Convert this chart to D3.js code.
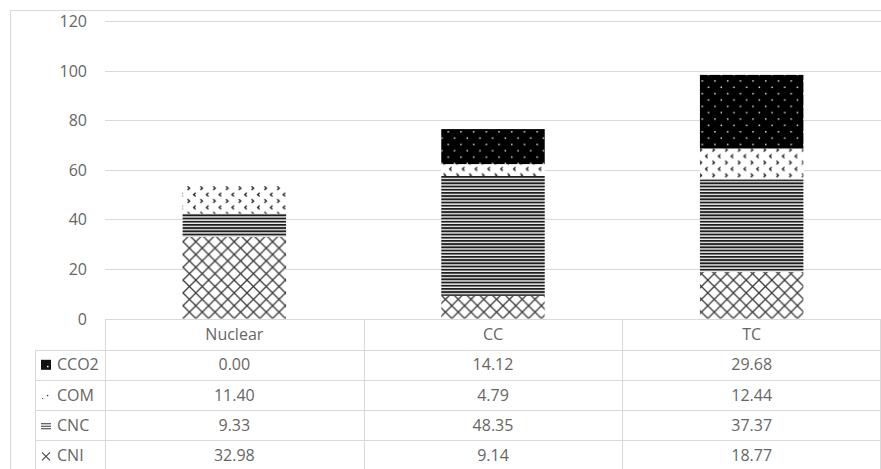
<!DOCTYPE html>
<html>
<head>
<meta charset="utf-8">
<script src="https://cdn.jsdelivr.net/npm/d3@7"></script>
<style>
  html, body { margin: 0; padding: 0; background: #fff; }
  svg { display: block; }
  text { font-family: "Open Sans", "Liberation Sans", sans-serif; font-size: 16px; fill: #666666; }
</style>
</head>
<body>
<svg id="chart" width="881" height="469"></svg>
<script>
// ---- data ----
const categories = ["Nuclear", "CC", "TC"];
const seriesNames = ["CNI", "CNC", "COM", "CCO2"];       // stack order, bottom to top
const CNI  = [32.98, 9.14, 18.77];
const CNC  = [9.33, 48.35, 37.37];
const COM  = [11.40, 4.79, 12.44];
const CCO2 = [0.00, 14.12, 29.68];
const yTicks = [0, 20, 40, 60, 80, 100, 120];
const tableRows = ["CCO2", "COM", "CNC", "CNI"];          // table order, top to bottom

const seriesValues = { CNI, CNC, COM, CCO2 };
const rows = categories.map((c, i) => {
  const r = { category: c };
  seriesNames.forEach(s => r[s] = seriesValues[s][i]);
  return r;
});

const svg = d3.select("#chart");
const W = 881, H = 469;
const plotLeft = 105, plotRight = 881;
const y0px = 318.5, yTopPx = 21;
const gridColor = "#d9d9d9";

// outer border
svg.append("rect").attr("x", 10.5).attr("y", 10.5).attr("width", 900).attr("height", 500)
  .attr("fill", "none").attr("stroke", gridColor);

// ---- patterns ----
const defs = svg.append("defs");
// CNI: diagonal cross lattice
const pCNI = defs.append("pattern").attr("id", "pCNI").attr("patternUnits", "userSpaceOnUse")
  .attr("width", 12.8).attr("height", 12.8).attr("x", 183).attr("y", 318.5);
pCNI.append("rect").attr("width", 12.8).attr("height", 12.8).attr("fill", "#fff");
pCNI.append("path").attr("d", "M0,0L12.8,12.8M12.8,0L0,12.8M-1,11.8L1,13.8M11.8,-1L13.8,1")
  .attr("stroke", "#3a3a3a").attr("stroke-width", 1.3).attr("fill", "none");

// CNC: dense horizontal lines
const pCNC = defs.append("pattern").attr("id", "pCNC").attr("patternUnits", "userSpaceOnUse")
  .attr("width", 8).attr("height", 3.2);
pCNC.append("rect").attr("width", 8).attr("height", 3.2).attr("fill", "#fff");
pCNC.append("rect").attr("y", 0).attr("width", 8).attr("height", 1.7).attr("fill", "#1e1e1e");
pCNC.append("rect").attr("y", 1.7).attr("width", 8).attr("height", 0.8).attr("fill", "#a8a8a8");

// COM: small chevron confetti
const pCOM = defs.append("pattern").attr("id", "pCOM").attr("patternUnits", "userSpaceOnUse")
  .attr("width", 12.8).attr("height", 12.8);
pCOM.append("rect").attr("width", 12.8).attr("height", 12.8).attr("fill", "#fff");
pCOM.append("path").attr("d", "M3.6,0.8L1.6,2.6L3.6,4.4M8.4,7.2L10.4,9.0L8.4,10.8")
  .attr("stroke", "#2a2a2a").attr("stroke-width", 1.4).attr("fill", "none");

// CCO2: black with white dots
const pCCO2 = defs.append("pattern").attr("id", "pCCO2").attr("patternUnits", "userSpaceOnUse")
  .attr("width", 12.7).attr("height", 12.7).attr("x", 1).attr("y", 2);
pCCO2.append("rect").attr("width", 12.7).attr("height", 12.7).attr("fill", "#000");
pCCO2.append("rect").attr("x", 2).attr("y", 2).attr("width", 1.5).attr("height", 1.5).attr("fill", "#ddd");
pCCO2.append("rect").attr("x", 8.35).attr("y", 8.35).attr("width", 1.5).attr("height", 1.5).attr("fill", "#ddd");

const fills = { CNI: "url(#pCNI)", CNC: "url(#pCNC)", COM: "url(#pCOM)", CCO2: "url(#pCCO2)" };

// ---- scales ----
const y = d3.scaleLinear().domain([0, 120]).range([y0px, yTopPx]);
const x = d3.scaleBand().domain(categories).range([plotLeft, plotRight])
  .paddingInner(0.6).paddingOuter(0.3);
const colX = d3.scaleBand().domain(categories).range([plotLeft, plotRight]);

// gridlines
svg.append("g").selectAll("line").data(yTicks.filter(t => t > 0)).join("line")
  .attr("x1", plotLeft).attr("x2", plotRight)
  .attr("y1", d => Math.round(y(d)) + 0.5).attr("y2", d => Math.round(y(d)) + 0.5)
  .attr("stroke", gridColor).attr("stroke-width", 1);

// y axis labels
const yAxis = d3.axisLeft(y).tickValues(yTicks).tickSize(0).tickPadding(0);
const gy = svg.append("g").attr("transform", "translate(87,0)").call(yAxis);
gy.select(".domain").remove();
gy.selectAll("text").attr("font-size", null).attr("font-family", null).style("fill", "#666666")
  .attr("dy", "0.35em");

// ---- stacked bars ----
const stack = d3.stack().keys(seriesNames)(rows);
svg.append("g").selectAll("g").data(stack).join("g")
  .attr("fill", d => fills[d.key])
  .selectAll("rect").data(d => d.filter(p => p[1] - p[0] > 0)).join("rect")
  .attr("x", d => x(d.data.category))
  .attr("width", x.bandwidth())
  .attr("y", d => y(d[1]))
  .attr("height", d => y(d[0]) - y(d[1]));

// ---- data table ----
const tableTop = 319.5, rowH = 30.2, hdrLeft = 35;
const tbl = svg.append("g");
tbl.append("line").attr("x1", plotLeft).attr("x2", plotRight).attr("y1", tableTop).attr("y2", tableTop)
  .attr("stroke", gridColor);
d3.range(1, tableRows.length + 2).forEach(i => {
  const yy = Math.round(tableTop + i * rowH) + 0.5;
  tbl.append("line").attr("x1", hdrLeft).attr("x2", plotRight).attr("y1", yy).attr("y2", yy)
    .attr("stroke", gridColor);
});
tbl.append("line").attr("x1", hdrLeft + 0.5).attr("x2", hdrLeft + 0.5)
  .attr("y1", tableTop + rowH).attr("y2", H + 10).attr("stroke", gridColor);
categories.forEach(c => {
  const xx = Math.round(colX(c)) + 0.5;
  tbl.append("line").attr("x1", xx).attr("x2", xx).attr("y1", tableTop).attr("y2", H + 10)
    .attr("stroke", gridColor);
});
tbl.append("line").attr("x1", plotRight - 0.5).attr("x2", plotRight - 0.5)
  .attr("y1", tableTop).attr("y2", H + 10).attr("stroke", gridColor);

tbl.selectAll("text.cat").data(categories).join("text").attr("class", "cat")
  .attr("x", d => colX(d) + colX.bandwidth() / 2)
  .attr("y", tableTop + rowH / 2).attr("dy", "0.35em").attr("text-anchor", "middle")
  .text(d => d);

tableRows.forEach((s, ri) => {
  const cy = tableTop + rowH * (ri + 1) + rowH / 2;
  tbl.selectAll("text.v" + s).data(seriesValues[s]).join("text").attr("class", "v" + s)
    .attr("x", (d, i) => colX(categories[i]) + colX.bandwidth() / 2)
    .attr("y", cy).attr("dy", "0.35em").attr("text-anchor", "middle")
    .text(d => d.toFixed(2));
  tbl.append("text").attr("x", 57).attr("y", cy).attr("dy", "0.35em").text(s);
  const kx = 41, ky = cy - 5;
  const k = tbl.append("g").attr("transform", `translate(${kx},${ky})`);
  if (s === "CCO2") {
    k.append("rect").attr("width", 10).attr("height", 10).attr("fill", "#111");
    k.append("rect").attr("x", 6).attr("y", 6).attr("width", 1.5).attr("height", 1.5).attr("fill", "#fff");
  } else if (s === "COM") {
    k.append("path").attr("d", "M1,8.5h1.2M6,5L7.2,6.2").attr("stroke", "#444").attr("stroke-width", 1.2);
  } else if (s === "CNC") {
    k.append("path").attr("d", "M0,3.5H10M0,6H10M0,8.5H10").attr("stroke", "#333").attr("stroke-width", 1.1);
  } else {
    k.append("path").attr("d", "M1,2L9,10M9,2L1,10").attr("stroke", "#444").attr("stroke-width", 1.1);
  }
});
</script>
</body>
</html>
